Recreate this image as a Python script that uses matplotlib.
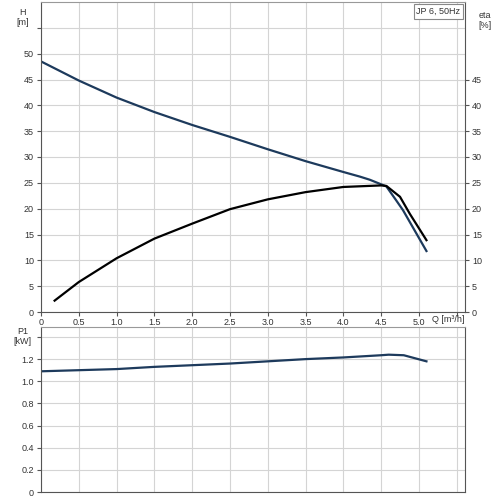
import numpy as np
import matplotlib
matplotlib.use('Agg')
import matplotlib.pyplot as plt

plt.rcParams['font.family'] = ['Liberation Sans', 'DejaVu Sans']
plt.rcParams['font.size'] = 6.5

# pump curve data
q_h = [0.0, 0.5, 1.0, 1.5, 2.0, 2.5, 3.0, 3.5, 4.0, 4.22, 4.35, 4.57, 4.70, 4.79, 5.1]
h = [48.5, 44.8, 41.5, 38.7, 36.2, 33.9, 31.5, 29.2, 27.1, 26.2, 25.6, 24.3, 21.6, 19.7, 11.8]

q_eta = [0.18, 0.5, 1.0, 1.5, 2.0, 2.5, 3.0, 3.5, 4.0, 4.5, 4.57, 4.75, 4.88, 5.1]
eta = [2.2, 5.8, 10.4, 14.2, 17.1, 19.9, 21.8, 23.2, 24.2, 24.5, 24.4, 22.3, 19.0, 13.9]

q_p = [0.0, 0.5, 1.0, 1.5, 2.0, 2.5, 3.0, 3.5, 4.0, 4.5, 4.6, 4.8, 5.1]
p1 = [1.09, 1.10, 1.11, 1.13, 1.145, 1.16, 1.18, 1.20, 1.215, 1.235, 1.24, 1.235, 1.18]

blue = '#1d3a5c'
grid_c = '#d4d4d4'
spine_c = '#555555'
txt_c = '#333333'

fig = plt.figure(figsize=(5, 5), dpi=100)
ax = fig.add_axes([0.082, 0.376, 0.848, 0.620])
ax2 = fig.add_axes([0.082, 0.016, 0.848, 0.330])

xmax = 5.61
xgrid = np.arange(0, 5.51, 0.5)

# upper chart: H and eta
ax.plot(q_h, h, color=blue, lw=1.6)
ax.plot(q_eta, eta, color='black', lw=1.6)
ax.set_xlim(0, xmax)
ax.set_ylim(0, 60)
ax.set_yticks(np.arange(0, 56, 5))
ax.set_yticklabels([str(v) if v <= 50 else '' for v in range(0, 56, 5)])
ax.set_xticks(xgrid)
ax.set_xticklabels(['0'] + ['%.1f' % v for v in xgrid[1:-1]] + [''])
ax.grid(True, color=grid_c, lw=0.8)
ax.tick_params(colors=spine_c, labelcolor=txt_c, length=3, width=0.8, pad=2)
ax.tick_params(axis='x', pad=1.5)
for s in ax.spines.values():
    s.set_color(spine_c)
ax.spines['top'].set_color('#999999')

axr = ax.twinx()
axr.set_ylim(0, 60)
axr.set_yticks(np.arange(0, 46, 5))
axr.tick_params(colors=spine_c, labelcolor=txt_c, length=3, width=0.8, pad=2)
for s in axr.spines.values():
    s.set_visible(False)

fig.text(0.045, 0.975, 'H', ha='center', va='center', color=txt_c)
fig.text(0.045, 0.955, '[m]', ha='center', va='center', color=txt_c)
fig.text(0.970, 0.968, 'eta', ha='center', va='center', color=txt_c)
fig.text(0.970, 0.948, '[%]', ha='center', va='center', color=txt_c)
fig.text(0.864, 0.362, 'Q [m³/h]', ha='left', va='center', color=txt_c)
ax.text(5.55, 59.0, 'JP 6, 50Hz', ha='right', va='top', color=txt_c,
        bbox=dict(boxstyle='square,pad=0.3', fc='white', ec='#888888', lw=0.8))

# lower chart: P1
ax2.plot(q_p, p1, color=blue, lw=1.6)
ax2.set_xlim(0, xmax)
ax2.set_ylim(0, 1.49)
ax2.set_yticks(np.arange(0, 1.41, 0.2))
ax2.set_yticklabels(['0', '0.2', '0.4', '0.6', '0.8', '1.0', '1.2', ''])
ax2.set_xticks(xgrid)
ax2.set_xticklabels([])
ax2.grid(True, color=grid_c, lw=0.8)
ax2.tick_params(colors=spine_c, labelcolor=txt_c, length=3, width=0.8, pad=2)
ax2.tick_params(axis='x', length=0)
for s in ax2.spines.values():
    s.set_color(spine_c)
ax2.spines['top'].set_color('#999999')

fig.text(0.045, 0.338, 'P1', ha='center', va='center', color=txt_c)
fig.text(0.045, 0.318, '[kW]', ha='center', va='center', color=txt_c)

fig.savefig('out.png', dpi=100, facecolor='white')
